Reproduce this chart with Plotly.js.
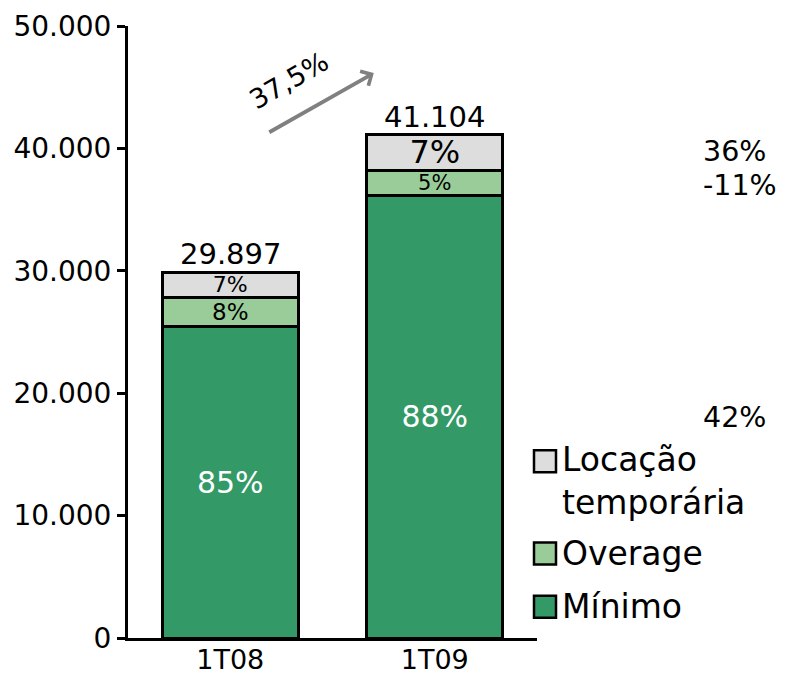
<!DOCTYPE html>
<html>
<head>
<meta charset="utf-8">
<script src="https://cdn.plot.ly/plotly-3.0.1.min.js"></script>
<style>
  html, body { margin: 0; padding: 0; background: #fff; }
  #chart { width: 786px; height: 676px; }
</style>
</head>
<body>
<div id="chart"></div>
<script>
// Receita por trimestre, empilhada por componente
const periods = ['1T08', '1T09'];
const minimo = [25412, 36172];
const overage = [2392, 2055];
const locacao = [2093, 2877];

const seriesNames = ['Mínimo', 'Overage', 'Locação<br>temporária'];
const seriesColors = ['#339966', '#99cc99', '#dddddd'];

// Variações mostradas à direita e crescimento total
const growthLabel = '37,5%';
const sideLabels = ['36%', '-11%', '42%'];

const FONT = 'DejaVu Sans, Verdana, sans-serif';

const totals = periods.map((_, i) => minimo[i] + overage[i] + locacao[i]);
const fmtInt = v => Math.round(v).toString().replace(/\B(?=(\d{3})+(?!\d))/g, '.');
const pct = (arr) => arr.map((v, i) => Math.round(100 * v / totals[i]) + '%');

function barTrace(values, name, color, textSizes, textColor) {
  return {
    type: 'bar',
    x: periods,
    y: values,
    name: name,
    text: pct(values),
    textposition: 'inside',
    insidetextanchor: 'middle',
    constraintext: 'none',
    textfont: { family: FONT, size: textSizes, color: textColor },
    marker: { color: color, line: { color: '#000', width: 3 } },
    width: 0.665,
    hoverinfo: 'skip',
    showlegend: false
  };
}

const data = [
  barTrace(minimo, seriesNames[0], seriesColors[0], [30, 30], '#ffffff'),
  barTrace(overage, seriesNames[1], seriesColors[1], [23, 21], '#000000'),
  barTrace(locacao, seriesNames[2], seriesColors[2], [22, 32], '#000000')
];

const annotations = [];
const shapes = [];

// Totais acima das barras
periods.forEach((p, i) => {
  annotations.push({
    x: p, y: totals[i], xref: 'x', yref: 'y',
    text: fmtInt(totals[i]), showarrow: false,
    yanchor: 'bottom', yshift: -1,
    font: { family: FONT, size: 29, color: '#000' }
  });
});

// Seta de crescimento
annotations.push({
  xref: 'paper', yref: 'paper', x: 0.601, y: 0.923,
  ax: -106, ay: 60, axref: 'pixel', ayref: 'pixel',
  showarrow: true, arrowhead: 4, arrowsize: 0.85, arrowwidth: 3.8,
  arrowcolor: '#808080', text: ''
});
annotations.push({
  xref: 'paper', yref: 'paper', x: 0.393, y: 0.911,
  xanchor: 'center', yanchor: 'middle',
  text: growthLabel, showarrow: false, textangle: -30,
  font: { family: FONT, size: 27, color: '#000' }
});

// Variações à direita
const sideY = [0.795, 0.739, 0.36];
sideLabels.forEach((t, i) => {
  annotations.push({
    xref: 'paper', yref: 'paper', x: (701 - 128) / 409, y: sideY[i],
    xanchor: 'left', yanchor: 'middle',
    text: t, showarrow: false,
    font: { family: FONT, size: 28.5, color: '#000' }
  });
});

// Legenda desenhada à mão (caixas grandes com contorno)
const legendItems = [
  { name: seriesNames[2], color: seriesColors[2], cy: 0.289, ty: 0.256 },
  { name: seriesNames[1], color: seriesColors[1], cy: 0.138, ty: 0.138 },
  { name: seriesNames[0], color: seriesColors[0], cy: 0.051, ty: 0.051 }
];
const pw = 409, ph = 612;
legendItems.forEach(it => {
  const x0 = (534 - 128) / pw, x1 = (556 - 128) / pw;
  const half = 11 / ph;
  shapes.push({
    type: 'rect', xref: 'paper', yref: 'paper',
    x0: x0, x1: x1, y0: it.cy - half, y1: it.cy + half,
    fillcolor: it.color, line: { color: '#000', width: 2.5 }
  });
  annotations.push({
    xref: 'paper', yref: 'paper', x: (560 - 128) / pw, y: it.ty,
    xanchor: 'left', yanchor: 'middle', align: 'left',
    text: it.name, showarrow: false,
    font: { family: FONT, size: 33, color: '#000' }
  });
});

const layout = {
  width: 786, height: 676,
  margin: { l: 128, r: 249, t: 26, b: 38, pad: 0 },
  paper_bgcolor: '#fff', plot_bgcolor: '#fff',
  barmode: 'stack',
  separators: ',.',
  showlegend: false,
  font: { family: FONT, color: '#000' },
  xaxis: {
    type: 'category', range: [-0.5, 1.5],
    showline: true, linecolor: '#000', linewidth: 3,
    ticks: '', showgrid: false, zeroline: false,
    ticklabelstandoff: -4,
    tickfont: { family: FONT, size: 27, color: '#000' }
  },
  yaxis: {
    range: [0, 50000], dtick: 10000, tickformat: ',d',
    showline: true, linecolor: '#000', linewidth: 3,
    ticks: 'outside', ticklen: 8, tickwidth: 3, tickcolor: '#000',
    showgrid: false, zeroline: false,
    tickfont: { family: FONT, size: 28, color: '#000' }
  },
  annotations: annotations,
  shapes: shapes
};

Plotly.newPlot('chart', data, layout, { displayModeBar: false, staticPlot: true });
</script>
</body>
</html>
